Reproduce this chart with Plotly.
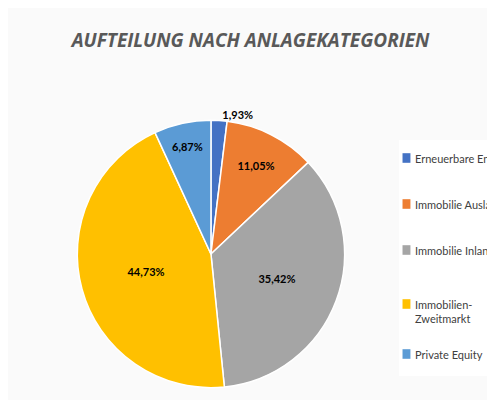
import plotly.graph_objects as go

labels = ["Erneuerbare Energien", "Immobilie Ausland", "Immobilie Inland", "Immobilien-Zweitmarkt", "Private Equity"]
legend_text = ["Erneuerbare Ene", "Immobilie Auslan", "Immobilie Inland", "Immobilien-<br>Zweitmarkt", "Private Equity"]
values = [1.93, 11.05, 35.42, 44.73, 6.87]
text_labels = ["<b>1,93%</b>", "<b>11,05%</b>", "<b>35,42%</b>", "<b>44,73%</b>", "<b>6,87%</b>"]
colors = ["#4472C4", "#ED7D31", "#A5A5A5", "#FFC000", "#5B9BD5"]

fig = go.Figure(go.Pie(
    labels=labels, values=values, text=text_labels, textinfo="text",
    sort=False, direction="clockwise", rotation=0,
    marker=dict(colors=colors, line=dict(color="white", width=1.5)),
    textposition=["outside", "inside", "inside", "inside", "inside"],
    insidetextorientation="horizontal",
    textfont=dict(family="Lato", size=11, color="black"),
    outsidetextfont=dict(family="Lato", size=11, color="black"),
    domain=dict(x=[0.14, 0.68], y=[0.05, 0.72]),
    showlegend=False, hoverinfo="label+percent",
))

fig.add_shape(type="rect", xref="paper", yref="paper", x0=0.79, x1=1.0, y0=0.08, y1=0.67,
              fillcolor="white", line=dict(width=0), layer="below")
ys = [0.625, 0.51, 0.395, 0.26, 0.135]
for t, c, y in zip(legend_text, colors, ys):
    fig.add_shape(type="rect", xref="paper", yref="paper", x0=0.797, x1=0.813,
                  y0=y - 0.012, y1=y + 0.012, fillcolor=c, line=dict(width=0))
    fig.add_annotation(x=0.818, y=y, xref="paper", yref="paper", text=t, showarrow=False,
                       xanchor="left", yanchor="top" if "<br>" in t else "middle",
                       yshift=8 if "<br>" in t else 0, align="left",
                       font=dict(family="Lato", size=11, color="#404040"))

fig.update_layout(
    width=495, height=400, margin=dict(l=0, r=0, t=0, b=0),
    paper_bgcolor="#FAFAFA", plot_bgcolor="white",
    title=dict(text="<b><i>AUFTEILUNG NACH ANLAGEKATEGORIEN</i></b>", x=0.49, y=0.935, xanchor="center",
               font=dict(family="Open Sans", size=19, color="#595959")),
)
fig.write_html("out.html")
